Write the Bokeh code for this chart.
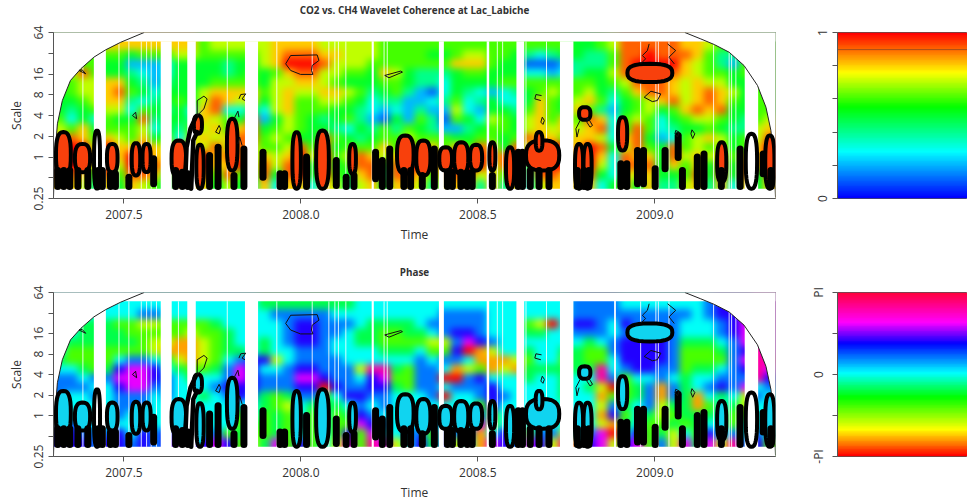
import numpy as np
from bokeh.document import Document
from bokeh.embed import file_html
from bokeh.resources import INLINE
from bokeh.layouts import column, row
from bokeh.models import BoxAnnotation, CustomJS, FixedTicker, LinearColorMapper, Range1d, Title
from bokeh.plotting import figure

# Coherence, in tenths; rows from the top scale to the bottom scale
coh_rows = [
[6,6,6,6,8,8,8,8,8,8,8,8,6,7,7,7,7,7,8,8,8,8,7,7,7,7,7,6,6,6,6,6,6,6,6,6,6,6,6,6,6,6,6,5,5,6,7,9,9,9,9,9,8,8,7,6,6,6,6,6],
[6,6,6,6,6,6,5,6,6,6,7,7,6,6,6,6,6,7,8,9,9,9,8,8,7,7,7,6,6,6,6,5,5,6,7,7,6,6,5,4,3,4,5,5,4,4,6,9,9,10,9,9,9,8,6,4,4,5,6,6],
[6,6,6,6,5,5,2,2,2,3,5,5,5,5,4,5,5,7,8,10,10,10,9,7,7,7,6,6,6,6,6,6,6,8,8,8,6,5,5,1,1,1,2,4,4,4,6,9,10,10,10,10,8,7,6,4,2,6,6,6],
[6,7,9,6,5,5,4,3,2,3,5,5,5,5,4,5,6,5,6,8,9,9,7,7,6,6,5,8,7,5,4,4,4,5,6,6,5,5,5,3,3,2,3,4,5,5,7,9,9,10,9,9,8,7,6,6,5,6,6,6],
[6,6,7,7,8,8,5,4,2,4,5,5,5,6,6,6,6,5,7,7,8,8,7,6,5,5,5,6,6,5,4,4,3,5,5,5,5,6,6,6,6,6,6,6,6,5,6,7,9,9,9,8,7,8,7,7,5,5,6,6],
[5,6,7,7,8,9,6,5,3,5,5,5,7,8,8,8,8,6,7,8,7,7,8,8,7,6,4,5,6,4,2,1,3,5,4,3,2,3,4,5,6,7,6,6,7,5,4,6,8,9,9,8,7,8,9,8,7,5,6,6],
[5,5,6,7,8,8,4,3,4,5,6,5,7,9,8,7,8,5,7,8,6,6,7,7,6,5,3,4,4,2,2,3,4,6,3,4,5,3,3,5,8,6,5,7,8,6,3,5,6,7,8,9,7,8,9,8,6,5,6,6],
[5,4,5,6,7,7,3,6,5,4,5,3,8,9,3,3,5,3,7,8,6,6,6,5,5,4,3,2,3,2,4,2,2,7,3,2,5,5,4,6,8,6,5,8,6,4,2,5,6,7,5,6,8,9,8,9,5,5,6,6],
[6,3,5,3,6,5,5,9,4,5,5,4,8,7,6,5,9,2,5,7,6,5,4,5,6,4,2,1,5,2,6,4,1,6,5,3,7,6,5,7,8,6,8,6,9,8,3,6,7,6,3,5,6,7,7,6,5,4,6,7],
[7,6,8,5,6,6,6,7,3,5,4,6,7,8,6,8,9,5,6,7,6,5,5,4,3,5,4,6,4,6,5,4,2,2,4,5,6,6,5,7,8,7,8,7,8,9,3,6,9,6,3,4,5,5,6,5,4,4,7,8],
[8,9,8,6,8,7,6,8,5,6,3,7,8,7,8,9,9,6,7,6,5,5,9,6,5,4,5,6,6,7,6,6,6,5,5,6,6,5,6,9,8,8,6,8,8,7,3,8,9,5,2,3,6,7,8,7,5,6,7,9],
[10,10,10,7,10,8,8,9,8,7,9,8,7,9,7,9,8,6,6,7,9,6,9,5,6,6,6,8,6,10,6,8,6,8,6,9,8,5,9,7,10,10,10,8,10,9,5,7,9,6,5,9,6,7,6,7,5,6,8,10],
[10,10,10,8,10,8,10,10,8,8,10,7,10,8,9,9,6,8,7,8,10,7,10,6,7,9,8,7,8,10,10,8,10,10,10,10,8,9,10,6,10,10,10,8,10,8,3,9,8,8,5,9,7,8,7,8,6,8,8,10],
[10,10,10,7,10,7,10,10,9,8,10,8,10,8,8,10,6,9,7,9,10,5,10,5,6,9,9,5,9,10,10,7,10,10,10,10,7,9,9,5,10,10,10,8,10,7,3,9,9,9,5,8,6,8,5,9,5,9,8,10],
[9,9,8,5,9,6,9,9,8,5,10,9,9,6,9,6,5,9,5,9,10,5,10,6,5,8,9,4,9,9,8,6,9,9,9,7,8,6,9,4,9,9,8,8,9,5,3,8,7,8,5,5,6,9,5,9,5,9,5,9],
[8,8,7,4,8,5,8,7,6,4,8,8,8,5,7,5,4,8,3,8,8,3,8,7,4,7,8,5,8,8,7,4,8,8,8,4,8,4,8,3,7,8,8,8,8,3,5,8,5,8,4,4,7,8,4,8,3,8,5,8],
]

# Phase, in tenths of the colour bar
pha_rows = [
[5,5,5,5,5,5,5,5,5,5,5,5,5,5,5,5,5,4,4,4,4,4,4,4,4,5,5,5,5,5,5,5,5,5,5,5,5,5,5,5,5,5,5,6,6,6,6,5,5,5,5,5,5,5,6,7,7,7,8,8],
[5,5,5,5,5,5,5,6,6,5,5,5,5,5,5,5,5,5,6,6,6,6,6,5,5,5,5,5,5,5,5,5,6,6,6,6,5,5,5,5,5,5,5,6,6,6,6,6,6,6,6,6,6,5,6,7,7,8,8,8],
[5,5,4,4,4,3,3,2,2,3,3,3,3,4,5,5,5,5,5,6,7,7,6,6,6,5,4,4,4,4,5,6,6,6,6,6,5,5,5,3,2,0,5,7,7,6,5,7,6,6,6,6,5,5,5,6,7,8,8,8],
[5,5,4,4,4,4,3,3,3,3,3,2,3,3,4,5,5,5,5,6,7,7,6,6,5,4,4,3,3,4,4,5,6,7,7,6,5,5,5,4,4,5,5,6,6,6,5,6,7,7,7,6,5,5,5,6,7,8,9,8],
[5,4,4,4,4,4,4,3,2,2,1,1,2,3,4,5,5,4,5,6,7,7,6,5,5,4,4,3,3,3,3,2,2,6,8,7,6,5,5,5,5,5,5,5,4,5,6,7,7,7,7,6,4,4,4,5,6,8,9,8],
[5,3,3,3,3,3,3,3,2,1,1,1,2,3,4,4,5,4,5,5,6,6,6,5,5,5,5,4,4,4,5,3,3,7,0,1,2,5,5,4,5,5,4,4,3,3,6,7,7,7,7,6,3,3,3,4,6,7,9,8],
[4,3,3,3,3,5,6,6,5,4,2,1,2,3,5,6,7,7,2,5,6,6,6,6,5,5,5,5,5,5,6,5,6,6,5,1,1,1,2,3,5,5,3,4,3,3,5,7,7,7,7,6,3,3,3,3,6,8,9,9],
[5,5,4,3,4,7,8,8,7,5,4,3,3,4,6,8,7,5,5,6,7,7,6,6,6,2,9,9,4,3,6,6,5,1,2,3,1,2,1,4,4,4,4,4,4,9,5,6,7,7,6,6,3,4,4,5,6,7,9,8],
[6,6,5,6,6,8,8,8,7,6,5,4,5,5,6,8,7,6,6,6,8,8,7,6,6,5,7,8,3,3,6,6,0,0,6,7,5,5,5,4,5,5,4,5,5,9,6,3,5,5,6,5,4,5,5,6,6,6,9,7],
[6,6,6,5,5,7,8,8,6,6,5,5,5,6,7,7,7,6,6,6,7,7,0,7,6,6,7,7,4,3,6,6,5,6,6,6,7,5,5,5,5,5,4,5,4,2,0,3,4,6,1,6,4,5,6,7,6,8,5,6],
[6,5,5,6,5,6,6,6,5,6,5,5,4,5,6,7,6,4,3,4,6,6,3,5,7,7,6,6,5,5,5,6,0,5,5,6,7,6,5,5,5,5,4,5,5,1,3,3,4,6,1,6,4,1,5,4,5,2,6,5],
[6,5,5,5,5,6,6,6,5,5,5,5,5,5,5,5,5,4,3,2,5,4,4,4,5,6,5,6,5,5,5,5,5,5,5,3,7,5,5,5,5,5,5,5,5,2,6,4,5,6,2,4,4,1,3,5,4,2,5,5],
[5,5,5,5,5,6,5,5,5,5,5,5,5,5,5,3,5,3,4,3,5,3,5,3,4,7,6,5,5,5,5,5,5,5,5,6,3,5,5,5,5,5,5,5,5,1,7,3,5,4,2,3,4,4,4,5,3,3,5,5],
[6,6,6,5,5,5,5,5,5,5,5,5,5,5,5,3,4,3,4,3,5,3,5,3,3,8,7,6,5,5,5,6,5,5,5,8,3,5,5,5,5,5,5,5,5,2,1,4,5,3,3,4,3,4,5,5,3,5,5,5],
[7,7,6,6,6,7,5,7,6,7,6,5,5,6,3,4,3,3,4,3,5,3,5,3,7,3,8,5,5,6,6,3,7,6,6,1,5,7,6,3,6,6,2,5,6,8,0,5,7,3,4,2,5,3,7,5,6,5,6,5],
[7,7,7,6,7,7,6,7,6,7,8,7,7,8,7,3,2,4,8,3,7,3,5,2,8,3,9,8,2,5,7,4,7,2,5,1,8,7,6,8,7,2,9,1,7,8,2,7,8,3,6,2,8,4,8,2,9,6,7,3],
]

time_start, time_end = 2007.301, 2009.341
scale_low, scale_high = -1.53, 5.57  # log2 of scale

# Missing time spans, in years
gap_start = [2007.415, 2007.604, 2007.679, 2007.842, 2008.200, 2008.390, 2008.525, 2008.609, 2008.732, 2008.885, 2009.254]
gap_end = [2007.449, 2007.635, 2007.703, 2007.879, 2008.206, 2008.404, 2008.532, 2008.631, 2008.770, 2008.890, 2009.292]
thin_gaps = [2007.384, 2007.486, 2007.514, 2007.549, 2007.564, 2007.577, 2007.592, 2007.654, 2007.792,
             2007.932, 2008.032, 2008.079, 2008.096, 2008.106, 2008.127, 2008.235, 2008.244, 2008.555,
             2008.570, 2008.636, 2008.694, 2008.960, 2009.003, 2009.010, 2009.040, 2009.166, 2009.210,
             2009.217, 2009.229]

# Cone of influence (time, log2 scale)
cone_left_t = [2007.301, 2007.304, 2007.312, 2007.326, 2007.349, 2007.378, 2007.415, 2007.449, 2007.491, 2007.557]
cone_left_s = [-1.94, -0.17, 1.60, 2.72, 3.69, 4.25, 4.81, 5.17, 5.53, 6.0]
cone_right_t = [2009.085, 2009.130, 2009.168, 2009.210, 2009.252, 2009.290, 2009.314, 2009.328, 2009.337, 2009.341]
cone_right_s = [6.0, 5.69, 5.42, 5.05, 4.41, 3.45, 2.40, 1.28, -0.17, -1.94]

# Closed thick contours around significant coherence (centre, width, top, bottom)
core_t = [2007.329, 2007.383, 2007.467, 2007.534, 2007.564, 2007.655, 2007.709, 2007.715, 2007.806, 2007.988,
          2008.061, 2008.146, 2008.295, 2008.346, 2008.409, 2008.453, 2008.495, 2008.541, 2008.591, 2008.683,
          2008.673, 2008.786, 2008.810, 2008.802, 2008.909, 2009.189, 2009.325, 2008.986]
core_w = [0.042, 0.043, 0.030, 0.024, 0.023, 0.041, 0.023, 0.021, 0.030, 0.024,
          0.036, 0.019, 0.047, 0.040, 0.036, 0.040, 0.034, 0.017, 0.023, 0.094,
          0.019, 0.023, 0.023, 0.032, 0.026, 0.026, 0.026, 0.127]
core_top = [1.20, 0.63, 0.63, 0.67, 0.63, 0.80, 2.0, 0.60, 1.84, 1.20,
            1.28, 0.63, 1.04, 0.80, 0.47, 0.71, 0.59, 0.71, 0.47, 0.80,
            1.20, 0.63, 0.63, 2.40, 1.92, 0.71, 1.04, 4.49]
core_bot = [-0.97, -0.73, -0.73, -0.89, -0.73, -0.97, 1.12, -1.53, -0.65, -1.53,
            -1.53, -0.81, -0.81, -0.89, -0.65, -0.81, -0.65, -0.65, -1.53, -0.65,
            0.30, -1.53, -1.53, 1.79, 0.31, -1.21, -1.53, 3.61]

# Contours with an empty inside
open_t = [2007.424, 2009.273]
open_w = [0.017, 0.032]
open_top = [1.28, 1.12]
open_bot = [-1.53, -1.53]

# Narrow contours that fill solid black (time, top, bottom)
col_t = [2007.313, 2007.330, 2007.347, 2007.370, 2007.398, 2007.427, 2007.439, 2007.462, 2007.476, 2007.514,
         2007.584, 2007.646, 2007.665, 2007.681, 2007.742, 2007.766, 2007.811, 2007.839, 2007.893, 2007.941,
         2007.954, 2008.016, 2008.100, 2008.128, 2008.150, 2008.211, 2008.230, 2008.251, 2008.291, 2008.310,
         2008.343, 2008.377, 2008.414, 2008.428, 2008.452, 2008.470, 2008.484, 2008.541, 2008.614, 2008.626,
         2008.648, 2008.673, 2008.701, 2008.781, 2008.800, 2008.814, 2008.904, 2008.921, 2008.951, 2008.968,
         2009.001, 2009.029, 2009.066, 2009.078, 2009.120, 2009.139, 2009.188, 2009.241, 2009.306, 2009.328]
col_top = [-0.65, -0.65, -0.65, -0.65, -0.65, -0.65, -0.65, -0.81, -0.81, -0.97,
           -0.09, -0.65, -0.73, -0.81, 0.07, 0.47, -0.89, 0.39, 0.23, -0.81,
           -0.81, 0.0, -0.17, -0.97, -0.89, 0.23, -0.17, 0.39, -0.65, -0.65,
           -0.89, 0.39, -0.73, -0.73, -0.73, -0.73, -0.73, -0.89, 0.23, 0.23,
           -0.65, -0.65, -0.65, -0.65, -0.65, -0.65, -0.33, -0.33, 0.31, 0.31,
           -0.57, 0.31, 1.04, -0.65, 0.0, 0.15, -0.65, 0.39, 0.15, -0.65]
col_bot = [-1.53, -1.53, -1.53, -1.53, -1.53, -1.53, -1.53, -1.53, -1.53, -1.53,
           -1.29, -1.53, -1.53, -1.53, -1.53, -1.53, -1.53, -1.53, -0.97, -1.53,
           -1.53, -1.53, -1.37, -1.53, -1.53, -1.05, -1.53, -1.53, -1.53, -1.53,
           -1.53, -1.53, -1.53, -1.53, -1.53, -1.53, -1.53, -1.53, -1.53, -1.53,
           -1.53, -1.53, -1.53, -1.53, -1.53, -1.53, -1.53, -1.53, -1.29, -1.29,
           -1.53, -0.57, -0.03, -1.53, -1.53, -1.53, -1.53, -1.53, -0.81, -1.53]

# Thick contour beside the narrow neck near 2007.7
neck_t = [[2007.674, 2007.677, 2007.688, 2007.703], [2007.690, 2007.696, 2007.707]]
neck_s = [[-0.81, 0.47, 1.36, 1.92], [-1.53, 0.80, 1.20]]

# Thin contours
thin_t = [
 [2007.957, 2007.971, 2008.046, 2008.051, 2008.032, 2008.030, 2008.034, 2007.999, 2007.971, 2007.957],
 [2008.237, 2008.282, 2008.287, 2008.249, 2008.237],
 [2007.373, 2007.392, 2007.382, 2007.373],
 [2007.707, 2007.707, 2007.726, 2007.735, 2007.726, 2007.707],
 [2007.825, 2007.830, 2007.844, 2007.834, 2007.842],
 [2007.524, 2007.533, 2007.536, 2007.524],
 [2007.759, 2007.769, 2007.773, 2007.769, 2007.759],
 [2007.811, 2007.822, 2007.825],
 [2007.822, 2007.827, 2007.834],
 [2008.970, 2008.989, 2009.017, 2009.007, 2008.993, 2008.970],
 [2008.984, 2008.979, 2008.965, 2008.974, 2008.960],
 [2009.036, 2009.059, 2009.040, 2009.055],
 [2008.680, 2008.664, 2008.661, 2008.678],
 [2008.682, 2008.678, 2008.684, 2008.688, 2008.682],
 [2008.789, 2008.777, 2008.780, 2008.786],
 [2008.810, 2008.824, 2008.817, 2008.808, 2008.810],
 [2009.105, 2009.113, 2009.107, 2009.102, 2009.105],
 [2009.059, 2009.069, 2009.064, 2009.057, 2009.059],
]
thin_s = [
 [4.49, 4.89, 4.92, 4.65, 4.41, 4.17, 3.98, 3.98, 4.17, 4.49],
 [3.93, 4.14, 4.09, 3.82, 3.93],
 [4.17, 4.01, 4.20, 4.17],
 [2.0, 2.72, 2.93, 2.80, 2.32, 2.0],
 [2.80, 3.01, 3.04, 2.80, 2.72],
 [2.0, 2.16, 1.84, 2.0],
 [1.20, 1.52, 1.36, 1.12, 1.20],
 [1.84, 2.21, 1.92],
 [0.63, 0.96, 0.55],
 [2.88, 3.17, 3.04, 2.72, 2.67, 2.88],
 [5.45, 5.13, 4.89, 4.73, 4.49],
 [5.45, 5.13, 4.81, 4.49],
 [2.96, 3.01, 2.80, 2.72],
 [1.92, 1.68, 1.57, 1.76, 1.92],
 [1.76, 1.36, 0.96, 1.36],
 [1.92, 1.52, 1.44, 1.68, 1.92],
 [1.31, 1.12, 0.89, 1.12, 1.31],
 [1.28, 1.20, 0.96, 1.12, 1.28],
]

scale_ticks = [-2, -1, 0, 1, 2, 3, 4, 5, 6]
scale_labels = ["0.25", "", "1", "2", "4", "8", "16", "", "64"]
time_ticks = [2007.5, 2008.0, 2008.5, 2009.0]
time_labels = ["2007.5", "2008.0", "2008.5", "2009.0"]
coh_line = 0.897

TXT = "#333333"
FONT = "Open Sans"

# Softens the two wide colour fields in the browser; the colour bars stay sharp.
SMOOTH = """
function walk(root) {
  root.querySelectorAll('*').forEach((e) => {
    if (e.tagName.toLowerCase() === 'image' && Number(e.getAttribute('width')) > 300) {
      e.style.filter = 'blur(3.5px)';
    }
    if (e.shadowRoot) walk(e.shadowRoot);
  });
}
[0, 50, 150, 300, 600, 1000].forEach((t) => setTimeout(() => walk(document), t));
"""


def ramp(stops, n=100):
    pos = [s[0] for s in stops]
    rgb = np.array([[int(s[1][i:i + 2], 16) for i in (1, 3, 5)] for s in stops], float)
    out = []
    for f in np.linspace(0, 1, n):
        c = [int(round(np.interp(f, pos, rgb[:, k]))) for k in range(3)]
        out.append("#%02x%02x%02x" % tuple(c))
    return out


COH_PAL = ramp([(0, "#0000ff"), (0.28, "#00ffff"), (0.55, "#00ff00"), (0.76, "#ffff00"), (1, "#ff0000")])
PHA_PAL = ramp([(0, "#ff0000"), (0.16, "#ffff00"), (0.36, "#00ff00"), (0.51, "#00ffff"),
                (0.69, "#0000ff"), (0.82, "#ff00ff"), (1, "#ff0040")])


def outline(ts, ws, tops, bots):
    a = np.linspace(0, 2 * np.pi, 33)
    cx = np.sign(np.cos(a)) * np.abs(np.cos(a)) ** 0.75
    cy = np.sign(np.sin(a)) * np.abs(np.sin(a)) ** 0.75
    xs = [list(t + w / 2 * cx) for t, w in zip(ts, ws)]
    ys = [list((u + b) / 2 + (u - b) / 2 * cy) for u, b in zip(tops, bots)]
    return xs, ys


def style(ax):
    ax.major_tick_out = 5
    ax.major_tick_in = 0
    ax.minor_tick_line_color = None
    ax.major_label_text_font = FONT
    ax.major_label_text_font_size = "12px"
    ax.major_label_text_color = TXT
    ax.axis_line_color = "#555555"
    ax.major_tick_line_color = "#555555"


def panel(rows, palette, core_fill, title, spacer, height, top, bottom):
    p = figure(width=790, height=height, x_range=Range1d(time_start, time_end), y_range=Range1d(-2, 6),
               toolbar_location=None, output_backend="svg", min_border_left=53, min_border_right=15,
               min_border_top=top, min_border_bottom=bottom)
    p.grid.visible = False
    p.outline_line_color = "#555555"
    # An empty title below the real one lifts the real one away from the frame.
    p.add_layout(Title(text=" ", text_font_size="10px", standoff=spacer), "above")
    p.add_layout(Title(text=title, align="center", text_font=FONT, text_font_size="9.9px",
                       text_font_style="bold", text_color=TXT, standoff=0), "above")
    style(p.xaxis[0])
    style(p.yaxis[0])
    p.xaxis.ticker = FixedTicker(ticks=time_ticks)
    p.xaxis.major_label_overrides = dict(zip(time_ticks, time_labels))
    p.xaxis.major_label_standoff = 6
    p.xaxis.axis_label = "Time"
    p.xaxis.axis_label_text_font = FONT
    p.xaxis.axis_label_text_font_style = "normal"
    p.xaxis.axis_label_text_font_size = "12px"
    p.xaxis.axis_label_text_color = TXT
    p.xaxis.axis_label_standoff = 4
    p.yaxis.ticker = FixedTicker(ticks=scale_ticks)
    p.yaxis.major_label_overrides = dict(zip(scale_ticks, scale_labels))
    p.yaxis.major_label_orientation = "vertical"
    p.yaxis.major_label_standoff = 6
    p.yaxis.axis_label = "Scale"
    p.yaxis.axis_label_text_font = FONT
    p.yaxis.axis_label_text_font_style = "normal"
    p.yaxis.axis_label_text_font_size = "12px"
    p.yaxis.axis_label_text_color = TXT
    p.yaxis.axis_label_standoff = 6

    arr = np.array([(r + r[-1:] * 60)[:60] for r in rows], float)[::-1]
    # The outermost cells are repeated once, hidden under the white bands, so the soft edge stays out of view.
    dt = (time_end - time_start) / arr.shape[1]
    ds = (scale_high - scale_low) / arr.shape[0]
    mapper = LinearColorMapper(palette=palette, low=0, high=10)
    p.image(image=[np.pad(arr, 1, mode="edge")], x=time_start - dt, y=scale_low - ds,
            dw=time_end - time_start + 2 * dt, dh=scale_high - scale_low + 2 * ds, color_mapper=mapper)
    p.quad(left=gap_start, right=gap_end, top=scale_high + 0.01, bottom=scale_low - 0.01,
           fill_color="white", line_color=None)
    p.segment(thin_gaps, scale_low, thin_gaps, scale_high, line_color="#ffffff", line_width=1, line_alpha=0.85)
    p.quad(left=time_start - 0.1, right=time_end + 0.1, top=scale_low, bottom=-2.1, fill_color="white", line_color=None)
    p.quad(left=time_start - 0.1, right=time_end + 0.1, top=6.1, bottom=scale_high, fill_color="white", line_color=None)
    p.patch(cone_left_t + [time_start - 0.01, time_start - 0.01], cone_left_s + [6, -2], fill_color="white", line_color=None)
    p.patch(cone_right_t + [time_end + 0.01, time_end + 0.01], cone_right_s + [-2, 6], fill_color="white", line_color=None)
    p.line(cone_left_t, cone_left_s, line_color="#222222", line_width=1)
    p.line(cone_right_t, cone_right_s, line_color="#222222", line_width=1)

    xs, ys = outline(core_t, core_w, core_top, core_bot)
    p.patches(xs, ys, fill_color=core_fill, line_color="black", line_width=4)
    xs2, ys2 = outline(open_t, open_w, open_top, open_bot)
    p.patches(xs2, ys2, fill_color=None, line_color="black", line_width=4)
    p.segment(col_t, col_top, col_t, [max(b, -1.42) for b in col_bot], line_color="black", line_width=7,
              line_cap="round")
    p.multi_line(neck_t, neck_s, line_color="black", line_width=4.5, line_cap="round")
    p.multi_line(thin_t, thin_s, line_color="#111111", line_width=1)
    p.add_layout(BoxAnnotation(left=time_start, right=time_end, top=6, bottom=-2, fill_color=None,
                               line_color="#555555", line_width=1))
    return p


def bar(palette, low, high, ticks, labels, height, top, bottom, level=None):
    p = figure(width=177, height=height, x_range=Range1d(0, 1), y_range=Range1d(low, high),
               toolbar_location=None, output_backend="svg", min_border_left=47, min_border_right=0,
               min_border_top=top, min_border_bottom=bottom)
    p.grid.visible = False
    p.xaxis.visible = False
    p.outline_line_color = "#555555"
    style(p.yaxis[0])
    p.yaxis.ticker = FixedTicker(ticks=ticks)
    p.yaxis.major_label_overrides = dict(zip(ticks, labels))
    p.yaxis.major_label_orientation = "vertical"
    p.yaxis.major_label_standoff = 6
    grad = np.linspace(low, high, 100).reshape(-1, 1)
    p.image(image=[grad], x=0, y=low, dw=1, dh=high - low,
            color_mapper=LinearColorMapper(palette=palette, low=low, high=high))
    if level is not None:
        p.line([0, 1], [level, level], line_color="#a8501a", line_width=1)
    return p


p1 = panel(coh_rows, COH_PAL, "#f8400c", "CO2 vs. CH4 Wavelet Coherence at Lac_Labiche", 3, 250, 32, 52)
p2 = panel(pha_rows, PHA_PAL, "#10d4f0", "Phase", 1, 253, 42, 45)
c1 = bar(COH_PAL, 0, 1, [0, 0.2, 0.4, 0.6, 0.8, 1], ["0", "", "", "", "", "1"], 250, 32, 52, coh_line)
c2 = bar(PHA_PAL, -np.pi, np.pi, [-np.pi, -np.pi / 2, 0, np.pi / 2, np.pi], ["-PI", "", "0", "", "PI"], 253, 42, 45)

layout = column(row(p1, c1), row(p2, c2))
doc = Document()
doc.add_root(layout)
doc.js_on_event("document_ready", CustomJS(code=SMOOTH))
open("out.html", "w").write(file_html(doc, INLINE))
